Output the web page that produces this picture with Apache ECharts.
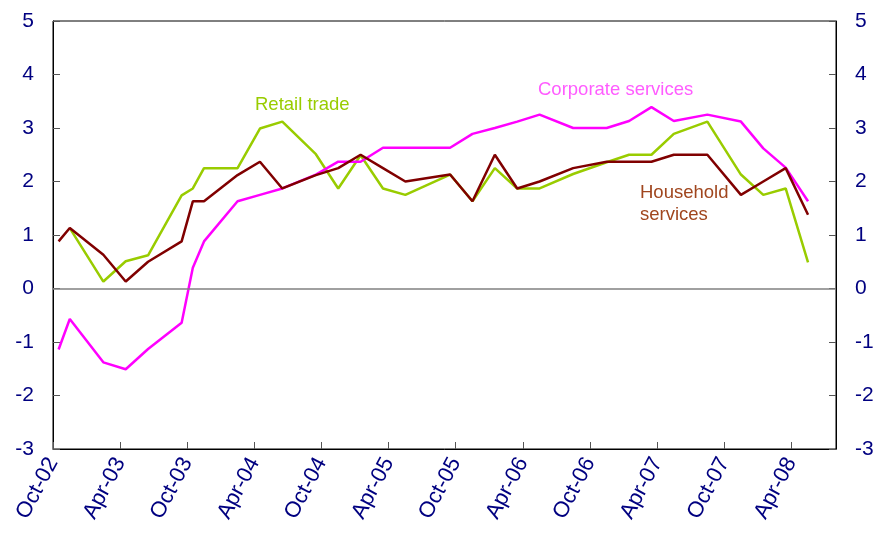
<!DOCTYPE html>
<html>
<head>
<meta charset="utf-8">
<script src="https://cdn.jsdelivr.net/npm/echarts@6/dist/echarts.min.js"></script>
<style>html,body{margin:0;padding:0;background:#fff}#c{width:882px;height:538px}</style>
</head>
<body>
<div id="c"></div>
<script>
// months since Oct-02 (mid-month positions)
const months = [0.5,1.5,4.5,6.5,8.5,11.5,12.5,13.5,16.5,18.5,20.5,23.5,25.5,27.5,29.5,31.5,35.5,37.5,39.5,41.5,43.5,46.5,49.5,51.5,53.5,55.5,58.5,61.5,63.5,65.5,67.5];
const retailTrade = [null,1.13,0.13,0.51,0.62,1.74,1.87,2.25,2.25,2.99,3.12,2.51,1.87,2.49,1.87,1.75,2.13,1.63,2.25,1.87,1.87,2.14,2.36,2.5,2.5,2.89,3.12,2.13,1.75,1.87,0.49];
const householdServices = [0.88,1.13,0.63,0.13,0.5,0.88,1.63,1.63,2.12,2.37,1.87,2.12,2.25,2.5,2.25,2.0,2.13,1.63,2.5,1.87,2.0,2.25,2.37,2.37,2.37,2.5,2.5,1.75,2.0,2.25,1.38];
const corporateServices = [-1.14,-0.57,-1.38,-1.51,-1.13,-0.64,0.39,0.88,1.63,1.75,1.87,2.13,2.37,2.37,2.63,2.63,2.63,2.89,3.0,3.12,3.25,3.0,3.0,3.13,3.39,3.13,3.25,3.12,2.62,2.26,1.63];
const xTickLabels = ['Oct-02','Apr-03','Oct-03','Apr-04','Oct-04','Apr-05','Oct-05','Apr-06','Oct-06','Apr-07','Oct-07','Apr-08'];

const pair = arr => months.map((m,i) => [m, arr[i]]).filter(p => p[1] !== null);
const font = 'Liberation Sans, Arial, sans-serif';
const navy = '#000080';

const chart = echarts.init(document.getElementById('c'), null, {renderer:'canvas'});
const yAxisCommon = {
  type:'value', min:-3, max:5, interval:1,
  axisLine:{show:true, lineStyle:{color:'#000', width:1}},
  axisTick:{show:true, inside:true, length:7, lineStyle:{color:'#555'}},
  splitLine:{show:false},
  axisLabel:{color:navy, fontSize:21, fontFamily:font, margin:19}
};
chart.setOption({
  animation:false,
  backgroundColor:'#fff',
  grid:{left:53, right:46, top:21, bottom:89, show:true, borderColor:'#000', borderWidth:1},
  xAxis:{
    type:'value', min:0, max:70, interval:6,
    axisLine:{show:true, onZero:false, lineStyle:{color:'#000', width:1}},
    axisTick:{show:true, inside:true, length:7, lineStyle:{color:'#555'}},
    splitLine:{show:false},
    axisLabel:{color:navy, fontSize:22, fontFamily:font, rotate:62, margin:10, showMaxLabel:false,
      formatter: v => xTickLabels[Math.round(v/6)] || ''}
  },
  yAxis:[Object.assign({position:'left'}, yAxisCommon), Object.assign({position:'right'}, yAxisCommon)],
  series:[
    {name:'Retail trade', type:'line', data:pair(retailTrade), showSymbol:false, symbol:'none',
      lineStyle:{color:'#99cc00', width:2.5}, itemStyle:{color:'#99cc00'}, z:3,
      markLine:{silent:true, symbol:'none', label:{show:false}, lineStyle:{color:'#808080', width:1.5, type:'solid'}, data:[{yAxis:0}]}},
    {name:'Corporate services', type:'line', data:pair(corporateServices), showSymbol:false, symbol:'none',
      lineStyle:{color:'#ff00ff', width:2.5}, itemStyle:{color:'#ff00ff'}, z:4},
    {name:'Household services', type:'line', data:pair(householdServices), showSymbol:false, symbol:'none',
      lineStyle:{color:'#800000', width:2.5}, itemStyle:{color:'#800000'}, z:5}
  ],
  graphic:[
    {type:'text', left:255, top:95, style:{text:'Retail trade', fill:'#99cc00', font:'18.5px '+font}},
    {type:'text', left:538, top:80, style:{text:'Corporate services', fill:'#ff5cff', font:'18.5px '+font}},
    {type:'text', left:640, top:182, style:{text:'Household\nservices', fill:'#a0461e', font:'18.5px '+font, lineHeight:22}}
  ]
});
</script>
</body>
</html>
